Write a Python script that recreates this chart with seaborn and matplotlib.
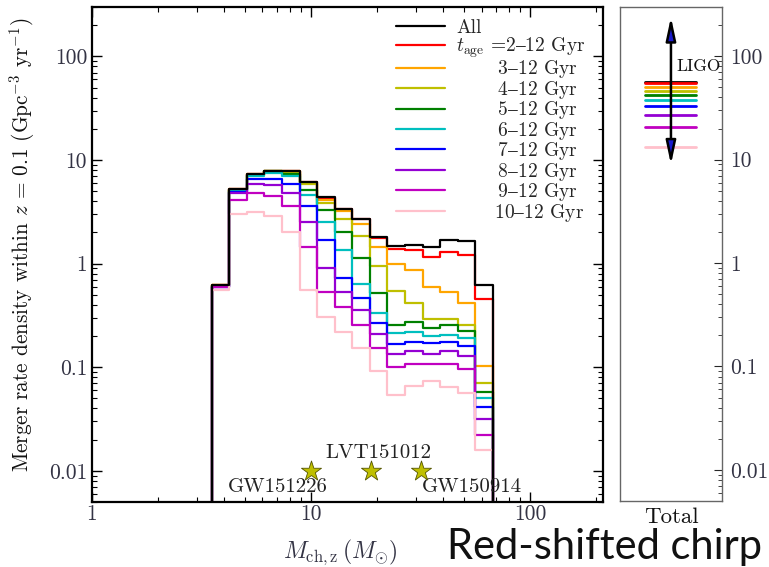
import numpy as np
import pandas as pd
import matplotlib
matplotlib.use("Agg")
import matplotlib.pyplot as plt
import seaborn as sns

# ---------------- data ----------------
log_edge_lo, log_edge_hi, n_bins = 0.5466, 1.8297, 16
series_names = ["All", "2-12", "3-12", "4-12", "5-12", "6-12", "7-12", "8-12", "9-12", "10-12"]
series_labels = ["All", r"$t_{\rm age}$ =2$–$12 Gyr",
                 r"$\hspace{2.45}$3$–$12 Gyr", r"$\hspace{2.45}$4$–$12 Gyr",
                 r"$\hspace{2.45}$5$–$12 Gyr", r"$\hspace{2.45}$6$–$12 Gyr",
                 r"$\hspace{2.45}$7$–$12 Gyr", r"$\hspace{2.45}$8$–$12 Gyr",
                 r"$\hspace{2.45}$9$–$12 Gyr", r"$\hspace{2.25}$10$–$12 Gyr"]
series_colors = ["black", "#ff0000", "#ffa500", "#bfbf00", "#008000", "#00bfbf",
                 "#0000ff", "#9400d3", "#c000c0", "#ffc0cb"]

rate_all   = [0.62, 5.2, 7.36, 7.92, 7.92, 6.1, 4.37, 3.38, 2.7, 1.82, 1.49, 1.5, 1.46, 1.71, 1.67, 0.627]
rate_2_12  = [0.62, 5.2, 7.36, 7.9, 7.9, 6.1, 4.35, 3.35, 2.68, 1.76, 1.39, 1.36, 1.17, 1.29, 1.21, 0.456]
rate_3_12  = [0.62, 5.2, 7.3, 7.9, 7.85, 6.05, 4.13, 3.2, 2.42, 1.46, 0.99, 0.87, 0.59, 0.53, 0.42, 0.103]
rate_4_12  = [0.62, 5.15, 7.25, 7.9, 7.6, 5.9, 3.83, 2.7, 1.86, 0.956, 0.548, 0.414, 0.29, 0.292, 0.255, 0.07]
rate_5_12  = [0.61, 5.1, 7.2, 7.9, 7.4, 5.16, 3.33, 2.04, 1.125, 0.52, 0.257, 0.271, 0.239, 0.257, 0.222, 0.058]
rate_6_12  = [0.61, 5.05, 7.07, 7.45, 7.07, 4.61, 2.55, 1.36, 0.636, 0.331, 0.214, 0.217, 0.2, 0.204, 0.19, 0.05]
rate_7_12  = [0.6, 4.96, 6.58, 6.58, 5.9, 3.64, 1.69, 0.727, 0.462, 0.265, 0.168, 0.177, 0.17, 0.174, 0.161, 0.041]
rate_8_12  = [0.6, 4.82, 5.9, 5.8, 4.82, 2.55, 0.91, 0.53, 0.357, 0.209, 0.134, 0.142, 0.134, 0.142, 0.129, 0.032]
rate_9_12  = [0.59, 4.13, 4.78, 4.54, 3.58, 1.44, 0.53, 0.384, 0.257, 0.152, 0.0996, 0.107, 0.107, 0.107, 0.096, 0.022]
rate_10_12 = [0.56, 3.02, 3.13, 2.91, 2.0, 0.557, 0.307, 0.22, 0.155, 0.0926, 0.054, 0.066, 0.073, 0.064, 0.057, 0.0158]
rates = [rate_all, rate_2_12, rate_3_12, rate_4_12, rate_5_12, rate_6_12,
         rate_7_12, rate_8_12, rate_9_12, rate_10_12]

total_rates = [56.0, 55.7, 50.6, 46.3, 42.4, 37.6, 33.1, 27.2, 20.6, 13.2]
ligo_range = [9.0, 240.0]

events = ["GW151226", "LVT151012", "GW150914"]
event_mch = [10.0, 18.8, 31.8]
event_rate = [0.01, 0.01, 0.01]

xticks = [1, 10, 100]
xticklabels = ["1", "10", "100"]
yticks = [0.01, 0.1, 1, 10, 100]
yticklabels = ["0.01", "0.1", "1", "10", "100"]

# ---------------- style ----------------
sns.set_style("white")
plt.rcParams["font.family"] = ["cmr10", "DejaVu Serif"]
plt.rcParams["mathtext.fontset"] = "cm"
plt.rcParams["axes.unicode_minus"] = False

fig = plt.figure(figsize=(7.69, 5.67), dpi=100)
ax = fig.add_axes([0.1196, 0.1146, 0.6645, 0.8730])
ax2 = fig.add_axes([0.8062, 0.1164, 0.1326, 0.8712])

edges = np.logspace(log_edge_lo, log_edge_hi, n_bins + 1)
tiny = 1e-5
rows = []
for name, vals in zip(series_names, rates):
    xs = [edges[0]] + list(edges)
    ys = [tiny] + list(vals) + [tiny]
    for i, (xv, yv) in enumerate(zip(xs, ys)):
        rows.append(dict(series=name, order=i, mch=xv, rate=yv))
df = pd.DataFrame(rows)

order_draw = list(range(1, len(series_names))) + [0]
for k in order_draw:
    sub = df[df.series == series_names[k]]
    sns.lineplot(data=sub, x="mch", y="rate", color=series_colors[k], lw=1.6,
                 drawstyle="steps-post", estimator=None, sort=False, legend=False,
                 ax=ax, zorder=3 if k == 0 else 2)

ax.set_xscale("log")
ax.set_yscale("log")
ax.set_xlim(1, 215)
ax.set_ylim(0.005, 300)

# events
sns.scatterplot(x=event_mch, y=event_rate, marker="*", s=230, color="#bfbf00",
                edgecolor="#555500", linewidth=0.6, ax=ax, zorder=4, legend=False)
offs = [(-33, -16, "center"), (7, 18, "center"), (1, -16, "left")]
for name, xv, yv, (dx, dy, ha) in zip(events, event_mch, event_rate, offs):
    ax.annotate(name, (xv, yv), xytext=(dx, dy), textcoords="offset pixels",
                ha=ha, va="center", fontsize=15, color="#222222")

ax.set_xticks(xticks)
ax.set_xticklabels(xticklabels)
ax.set_yticks(yticks)
ax.set_yticklabels(yticklabels)
ax.tick_params(which="both", direction="in", top=True, right=True, bottom=True, left=True,
               labelsize=15.5, colors="black", labelcolor="#333344")
ax.tick_params(axis="x", which="both", pad=2)
ax.tick_params(which="major", length=7, width=1)
ax.tick_params(which="minor", length=3.5, width=0.8)
for sp in ax.spines.values():
    sp.set_linewidth(1.6)
    sp.set_color("black")
ax.set_xlabel(r"$M_{\rm ch,z}\,(M_{\odot})$", fontsize=17, color="#333344")
ax.set_ylabel(r"Merger rate density within $z$ = 0.1 (Gpc$^{-3}$ yr$^{-1}$)",
              fontsize=15.3, color="#111111")
ax.xaxis.set_label_coords(0.485, -0.071)
ax.yaxis.set_label_coords(-0.108, 0.52)

handles = [plt.Line2D([], [], color=c, lw=1.6) for c in series_colors]
ax.legend(handles, series_labels, loc="upper right", frameon=False, fontsize=14,
          labelspacing=-0.08, handlelength=2.5, handletextpad=0.6,
          borderaxespad=0.3, bbox_to_anchor=(0.993, 1.003))

# right panel: totals
for k in range(len(series_names)):
    sns.lineplot(x=[0.25, 0.75], y=[total_rates[k], total_rates[k]], color=series_colors[k],
                 lw=2.0, ax=ax2, legend=False, zorder=2 if k == 0 else 3)
ax2.annotate("", xy=(0.5, ligo_range[1]), xytext=(0.5, ligo_range[0]),
             arrowprops=dict(arrowstyle="<|-|>,head_length=0.7,head_width=0.15",
                             fc="#1a1acc", ec="black", lw=1.8, shrinkA=0, shrinkB=0,
                             mutation_scale=20), zorder=5)
ax2.text(0.55, 80, "LIGO", ha="left", va="center", fontsize=12.5, color="#111111", zorder=6)
ax2.set_yscale("log")
ax2.set_xlim(0, 1)
ax2.set_ylim(0.005, 300)
ax2.set_xticks([0.5])
ax2.set_xticklabels(["Total"])
ax2.set_yticks(yticks)
ax2.set_yticklabels(yticklabels)
ax2.yaxis.tick_right()
ax2.tick_params(axis="y", which="both", direction="in", right=True, left=False,
                labelsize=15.5, labelcolor="#333344", pad=6)
ax2.tick_params(axis="y", which="major", length=6)
ax2.tick_params(axis="y", which="minor", length=3)
ax2.tick_params(axis="x", length=0, labelsize=16.5, labelcolor="#111111", pad=5)
for sp in ax2.spines.values():
    sp.set_linewidth(1.0)
    sp.set_color("#666666")
ax2.set_xlabel("")
ax2.set_ylabel("")

fig.text(0.5813, 0.014, "Red-shifted chirp", fontsize=30, family="Lato",
         ha="left", va="baseline", color="#111111")

fig.savefig("out.png", dpi=100)
